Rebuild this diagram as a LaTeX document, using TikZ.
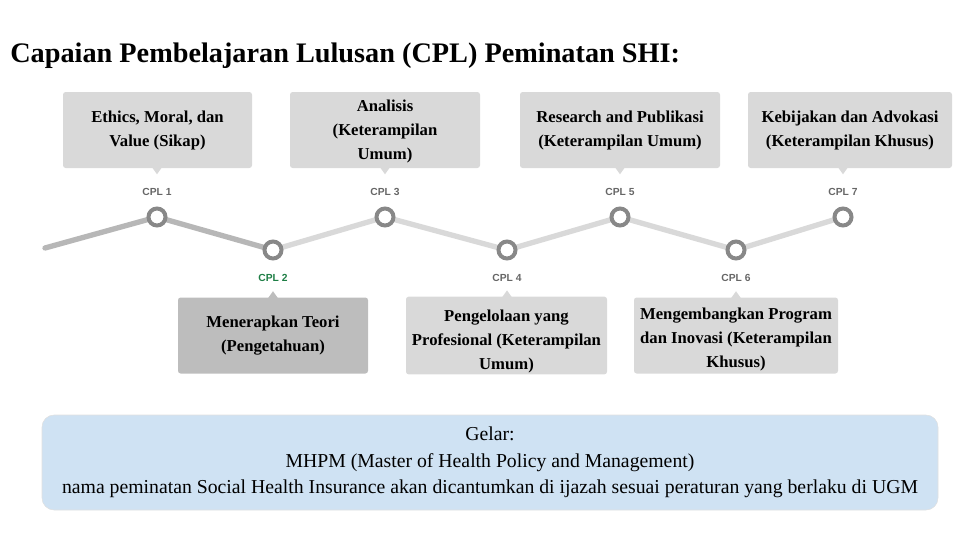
\documentclass[tikz,border=0pt]{standalone}
\usepackage{fontspec}
\setmainfont{Liberation Serif}
\newfontfamily\cplfont{Liberation Sans}
\usetikzlibrary{positioning,backgrounds}
\definecolor{boxgray}{HTML}{D9D9D9}
\definecolor{boxdark}{HTML}{BDBDBD}
\definecolor{trackdark}{HTML}{B7B7B7}
\definecolor{tracklight}{HTML}{D9D9D9}
\definecolor{ringgray}{HTML}{888888}
\definecolor{cpltext}{HTML}{666666}
\definecolor{cplgreen}{HTML}{1E7E45}
\definecolor{gelarblue}{HTML}{CFE2F3}
\newcommand{\padtop}[1]{\rule{0pt}{#1}}
\begin{document}
\begin{tikzpicture}[x=0.75pt,y=-0.75pt,
   cpl/.style={circle,draw=ringgray,line width=3pt,fill=white,minimum size=12.75pt,inner sep=0pt},
   lbl/.style={font=\cplfont\bfseries\fontsize{7.7}{9}\selectfont,text=cpltext,inner sep=0pt},
   topic/.style={fill=boxgray,rounded corners=2pt,minimum height=57pt,align=center,inner sep=1pt,
                 font=\bfseries\fontsize{12.5}{18}\selectfont},
   track/.style={line width=4pt,line cap=round}]
  \useasboundingbox (0,0) rectangle (960,540);
  \node[anchor=base west,inner sep=0pt,font=\bfseries\fontsize{21.2}{25}\selectfont] (title) at (10,62)
       {Capaian Pembelajaran Lulusan (CPL) Peminatan SHI:};

  \coordinate (start) at (45,248);
  \node[cpl] (c1) at (157,217) {};
  \node[cpl] (c2) at (273,250) {};
  \node[cpl] (c3) at (385,217) {};
  \node[cpl] (c4) at (507,250) {};
  \node[cpl] (c5) at (620,217) {};
  \node[cpl] (c6) at (736,250) {};
  \node[cpl] (c7) at (843,217) {};
  \begin{scope}[on background layer]
    \draw[track,trackdark] (start) -- (c1.center) -- (c2.center);
    \draw[track,tracklight] (c2.center) -- (c3.center) -- (c4.center) -- (c5.center)
         -- (c6.center) -- (c7.center);
  \end{scope}

  \node[lbl,above=7.8pt of c1] (l1) {CPL 1};
  \node[lbl,below=10pt of c2,text=cplgreen] (l2) {CPL 2};
  \node[lbl,above=7.8pt of c3] (l3) {CPL 3};
  \node[lbl,below=10pt of c4] (l4) {CPL 4};
  \node[lbl,above=7.8pt of c5] (l5) {CPL 5};
  \node[lbl,below=10pt of c6] (l6) {CPL 6};
  \node[lbl,above=7.8pt of c7] (l7) {CPL 7};

  \node[topic,minimum width=141.75pt] (t1) at (157.5,130) {Ethics, Moral, dan\\Value (Sikap)};
  \node[topic,minimum width=142.5pt] (t3) at (385,130) {\padtop{11.5pt}Analisis\\(Keterampilan\\Umum)};
  \node[topic,minimum width=150pt] (t5) at (620,130) {Research and Publikasi\\(Keterampilan Umum)};
  \node[topic,minimum width=153pt] (t7) at (850,130) {Kebijakan dan Advokasi\\(Keterampilan Khusus)};
  \node[topic,fill=boxdark,minimum width=142.5pt] (t2) at (273,335.5) {Menerapkan Teori\\(Pengetahuan)};
  \node[topic,minimum width=150.75pt] (t4) at (506.5,335.5) {\padtop{17.6pt}Pengelolaan yang\\Profesional (Keterampilan\\Umum)};
  \node[topic,minimum width=153pt] (t6) at (736,335.5) {\padtop{14.5pt}Mengembangkan Program\\dan Inovasi (Keterampilan\\Khusus)};

  \fill[boxgray] (c1 |- t1.south) ++(-5,-1) -- ++(10,0) -- ++(-5,7) -- cycle;
  \fill[boxgray] (c3 |- t3.south) ++(-5,-1) -- ++(10,0) -- ++(-5,7) -- cycle;
  \fill[boxgray] (c5 |- t5.south) ++(-5,-1) -- ++(10,0) -- ++(-5,7) -- cycle;
  \fill[boxgray] (c7 |- t7.south) ++(-5,-1) -- ++(10,0) -- ++(-5,7) -- cycle;
  \fill[boxdark] (c2 |- t2.north) ++(-5,1) -- ++(10,0) -- ++(-5,-7) -- cycle;
  \fill[boxgray] (c4 |- t4.north) ++(-5,1) -- ++(10,0) -- ++(-5,-7) -- cycle;
  \fill[boxgray] (c6 |- t6.north) ++(-5,1) -- ++(10,0) -- ++(-5,-7) -- cycle;

  \node[draw=black!12,fill=gelarblue,rounded corners=9pt,minimum width=672pt,minimum height=71.25pt,
        align=center,font=\fontsize{14.8}{20}\selectfont] (gelar) at (490,462.5)
       {Gelar:\\MHPM (Master of Health Policy and Management)\\
        nama peminatan Social Health Insurance akan dicantumkan di ijazah sesuai peraturan yang berlaku di UGM};
\end{tikzpicture}
\end{document}
